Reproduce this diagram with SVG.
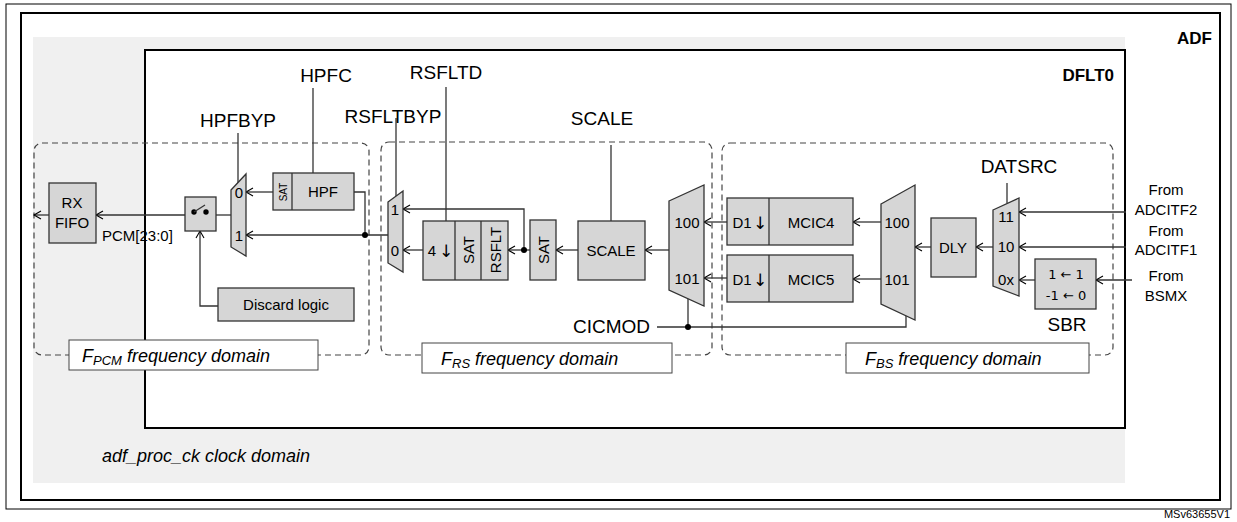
<svg xmlns="http://www.w3.org/2000/svg" width="1237" height="522" viewBox="0 0 1237 522">
<defs>
<marker id="a" markerWidth="10" markerHeight="10" refX="8" refY="5" orient="auto" markerUnits="userSpaceOnUse"><path d="M1,1 L8,5 L1,9" fill="none" stroke="#000" stroke-width="1.1"/></marker>
</defs>
<style>
text{font-family:"Liberation Sans",Arial,sans-serif;fill:#000}
.g{font-family:"DejaVu Sans",sans-serif;fill:#000}
.b{fill:#d6d6d6;stroke:#333;stroke-width:1.3}
.l{fill:none;stroke:#333;stroke-width:1.3}
.ar{fill:none;stroke:#333;stroke-width:1.3;marker-end:url(#a)}
.d{fill:none;stroke:#444;stroke-width:1.2;stroke-dasharray:6,4}
.t{font-size:15px;text-anchor:middle}
.r{font-size:19px;text-anchor:middle}
.i{font-size:18px;font-style:italic}
</style>
<rect x="6" y="4" width="1225" height="505" fill="#fff" stroke="#000" stroke-width="1"/>
<rect x="21" y="13" width="1199" height="487" fill="#fff" stroke="#000" stroke-width="2"/>
<rect x="33" y="37" width="1092" height="446" fill="#f0f0f0"/>
<rect x="145" y="50" width="980" height="378" fill="#fff" stroke="#000" stroke-width="2"/>
<text x="1212" y="44" font-size="17" font-weight="bold" text-anchor="end">ADF</text>
<text x="1114" y="81" font-size="17" font-weight="bold" text-anchor="end">DFLT0</text>
<text x="102" y="462" class="i">adf_proc_ck clock domain</text>
<text x="1230" y="518" font-size="11" text-anchor="end">MSv63655V1</text>

<g id="domains">
<rect x="34" y="143" width="335" height="212" rx="8" class="d"/>
<rect x="69" y="340" width="249" height="30" fill="#fff" stroke="#444"/>
<text x="82" y="362" class="i">F<tspan font-size="13" dy="3">PCM</tspan><tspan dy="-3"> frequency domain</tspan></text>
<rect x="381" y="142" width="331" height="213" rx="8" class="d"/>
<rect x="422" y="343" width="250" height="30" fill="#fff" stroke="#444"/>
<text x="441" y="365" class="i">F<tspan font-size="13" dy="3">RS</tspan><tspan dy="-3"> frequency domain</tspan></text>
<rect x="722" y="143" width="391" height="212" rx="8" class="d"/>
<rect x="846" y="343" width="243" height="30" fill="#fff" stroke="#444"/>
<text x="865" y="365" class="i">F<tspan font-size="13" dy="3">BS</tspan><tspan dy="-3"> frequency domain</tspan></text>
</g>

<g id="connectors">
<path d="M49,215 H34" class="ar"/>
<path d="M185,215 H96" class="ar"/>
<path d="M231,215 H216" class="l"/>
<path d="M218,306 H200 V231" class="ar"/>
<path d="M273,192 H246" class="ar"/>
<path d="M354,192 H365 V235" class="l"/>
<path d="M388,235 H246" class="ar"/>
<circle cx="365" cy="235" r="3"/>
<path d="M313,88 V173" class="l"/>
<path d="M238,133 V186" class="l"/>
<path d="M396,118 V197" class="l"/>
<path d="M446,87 V221" class="l"/>
<path d="M611,145 V221" class="l"/>
<path d="M1007,183 V203" class="l"/>
<path d="M423,250 H403" class="ar"/>
<path d="M524,250 V209 H403" class="ar"/>
<path d="M530,250 H508" class="ar"/>
<circle cx="524" cy="250" r="3"/>
<path d="M578,250 H556" class="ar"/>
<path d="M669,250 H645" class="ar"/>
<path d="M727,222 H704" class="ar"/>
<path d="M727,278 H704" class="ar"/>
<path d="M881,222 H853" class="ar"/>
<path d="M881,279 H853" class="ar"/>
<path d="M931,247 H915" class="ar"/>
<path d="M993,247 H976" class="ar"/>
<path d="M1035,280 H1019" class="ar"/>
<path d="M1126,212 H1019" class="ar"/>
<path d="M1126,247 H1019" class="ar"/>
<path d="M1132,280 H1096" class="ar"/>
<path d="M657,327 H906 V312" class="l"/>
<path d="M688,327 V297" class="l"/>
<circle cx="688" cy="327" r="3"/>
</g>

<g id="labels">
<text x="326" y="82" class="r">HPFC</text>
<text x="238" y="127" class="r">HPFBYP</text>
<text x="393" y="123" class="r">RSFLTBYP</text>
<text x="446" y="79" class="r">RSFLTD</text>
<text x="602" y="125" class="r">SCALE</text>
<text x="1019" y="173" class="r">DATSRC</text>
<text x="650" y="333" class="r" style="text-anchor:end">CICMOD</text>
<text x="1067" y="331" class="r">SBR</text>
<text x="102" y="241" font-size="15">PCM[23:0]</text>
<text class="t" font-size="14"><tspan x="1166" y="195">From</tspan><tspan x="1166" y="215">ADCITF2</tspan><tspan x="1166" y="236">From</tspan><tspan x="1166" y="255">ADCITF1</tspan><tspan x="1166" y="281">From</tspan><tspan x="1166" y="301">BSMX</tspan></text>
</g>

<g id="rxfifo"><rect x="49" y="183" width="47" height="60" class="b"/><text class="t"><tspan x="72" y="208">RX</tspan><tspan x="72" y="228">FIFO</tspan></text></g>
<g id="switch"><rect x="185" y="197" width="31" height="34" class="b"/><circle cx="194" cy="212" r="2.7"/><circle cx="206" cy="212" r="2.7"/><path d="M194,212 L205,205" class="l"/></g>
<g id="mux1"><path d="M231,190 L246,174 V256 L231,247 Z" class="b"/><text x="239" y="198" class="t">0</text><text x="239" y="241" class="t">1</text></g>
<g id="hpf"><rect x="273" y="173" width="81" height="37" class="b"/><path d="M292,173 V210" class="l"/><text transform="translate(287,192) rotate(-90)" font-size="10" text-anchor="middle">SAT</text><text x="323" y="197" class="t" font-size="16">HPF</text></g>
<g id="discard"><rect x="218" y="288" width="136" height="33" class="b"/><text x="286" y="310" class="t">Discard logic</text></g>
<g id="mux2"><path d="M388,202 L403,191 V272 L388,263 Z" class="b"/><text x="395" y="215" class="t">1</text><text x="395" y="256" class="t">0</text></g>
<g id="rsflt"><rect x="423" y="221" width="85" height="59" class="b"/><path d="M455,221 V280 M481,221 V280" class="l"/><text x="432" y="256" class="t" font-size="16">4</text><text x="446" y="257" class="g" font-size="17" text-anchor="middle">↓</text><text transform="translate(474,250) rotate(-90)" class="t" font-size="16">SAT</text><text transform="translate(501,250) rotate(-90)" class="t" font-size="16">RSFLT</text></g>
<g id="sat"><rect x="530" y="220" width="26" height="60" class="b"/><text transform="translate(549,250) rotate(-90)" class="t" font-size="16">SAT</text></g>
<g id="scale"><rect x="578" y="221" width="67" height="59" class="b"/><text x="611" y="256" class="t" font-size="16">SCALE</text></g>
<g id="mux3"><path d="M669,201 L704,185 V306 L669,290 Z" class="b"/><text x="687" y="228" class="t">100</text><text x="687" y="284" class="t">101</text></g>
<g id="mcic4"><rect x="727" y="198" width="126" height="47" class="b"/><path d="M769,198 V245" class="l"/><text x="742" y="228" class="t" font-size="16">D1</text><text x="760" y="229" class="g" font-size="17" text-anchor="middle">↓</text><text x="811" y="228" class="t" font-size="16">MCIC4</text></g>
<g id="mcic5"><rect x="727" y="255" width="126" height="47" class="b"/><path d="M769,255 V302" class="l"/><text x="742" y="285" class="t" font-size="16">D1</text><text x="760" y="286" class="g" font-size="17" text-anchor="middle">↓</text><text x="811" y="285" class="t" font-size="16">MCIC5</text></g>
<g id="mux4"><path d="M881,204 L915,185 V320 L881,304 Z" class="b"/><text x="897" y="228" class="t">100</text><text x="897" y="285" class="t">101</text></g>
<g id="dly"><rect x="931" y="218" width="45" height="59" class="b"/><text x="953" y="253" class="t" font-size="16">DLY</text></g>
<g id="mux5"><path d="M993,210 L1019,198 V296 L993,286 Z" class="b"/><text x="1006" y="222" class="t" font-size="14">11</text><text x="1006" y="252" class="t" font-size="14">10</text><text x="1006" y="285" class="t" font-size="14">0x</text></g>
<g id="sbr"><rect x="1035" y="259" width="61" height="50" class="b"/><text x="1066" y="279" class="g" font-size="13" text-anchor="middle">1 ← 1</text><text x="1066" y="300" class="g" font-size="13" text-anchor="middle">-1 ← 0</text></g>
</svg>
